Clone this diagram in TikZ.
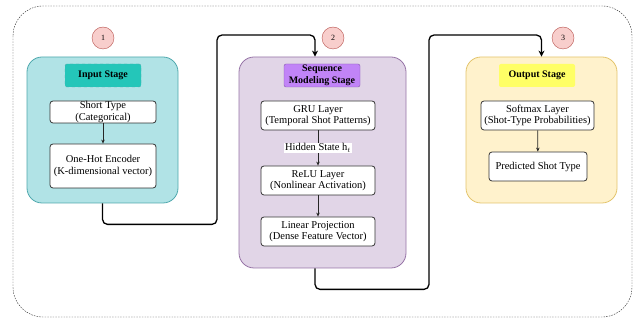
\documentclass[tikz,border=0pt]{standalone}
\usepackage{fontspec}
\setmainfont{Liberation Serif}
\usetikzlibrary{arrows.meta}
\usetikzlibrary{positioning}
\definecolor{inbg}{HTML}{B1E3E6}
\definecolor{indraw}{HTML}{4FA8AD}
\definecolor{inttl}{HTML}{24C6B9}
\definecolor{seqbg}{HTML}{E1D5E7}
\definecolor{seqdraw}{HTML}{9673A6}
\definecolor{seqttl}{HTML}{C184F7}
\definecolor{outbg}{HTML}{FFF2CC}
\definecolor{outdraw}{HTML}{E3C46C}
\definecolor{outttl}{HTML}{FFFF66}
\definecolor{numfill}{HTML}{F8CECC}
\definecolor{numdraw}{HTML}{B85450}
\tikzstyle{stage}=[draw,rounded corners=15pt,line width=0.8pt,inner sep=0pt]
\tikzstyle{ttl}=[rounded corners=2pt,font=\bfseries,align=center,inner sep=0pt,minimum width=76pt,minimum height=23pt]
\tikzstyle{lyr}=[draw=black!80,fill=white,rounded corners=3pt,align=center,inner sep=0pt,line width=0.8pt]
\tikzstyle{num}=[draw=numdraw,fill=numfill,circle,minimum size=22pt,inner sep=0pt,font=\footnotesize]
\tikzstyle{flow}=[draw,line width=1.3pt,rounded corners=5pt,-{Stealth[length=6pt,width=6pt]}]
\tikzstyle{sub}=[draw=black!85,line width=0.7pt,-{Stealth[length=4pt,width=3.5pt]}]

\begin{document}
\begin{tikzpicture}[x=1pt,y=-1pt,font=\fontsize{10.5}{11.5}\selectfont]
\useasboundingbox (0,0) rectangle (638,320);
\draw[black!85,dash pattern=on 1.5pt off 1.2pt,rounded corners=30pt] (13,6) rectangle (632,317);

% stages
\node[stage,draw=indraw,fill=inbg,minimum width=151pt,minimum height=146pt] (s1) at (102.5,130) {};
\node[stage,draw=seqdraw,fill=seqbg,minimum width=167pt,minimum height=211pt] (s2) at (322.5,162.5) {};
\node[stage,draw=outdraw,fill=outbg,minimum width=151pt,minimum height=146pt] (s3) at (541.5,130) {};

\node[ttl,fill=inttl,draw=indraw,dashed] (t1) at (103,75.5) {Input Stage};
\node[ttl,fill=seqttl,draw=seqttl!70!black] (t2) at (322,75.5) {Sequence\\Modeling Stage};
\node[ttl,fill=outttl] (t3) at (537,75.5) {Output Stage};

\foreach \n/\x in {1/103,2/333,3/563}{\node[num] (c\n) at (\x,38) {\n};}

% stage 1
\node[lyr,minimum width=106pt,minimum height=22pt] (short) at (103,112) {Short Type\\(Categorical)};
\node[lyr,minimum width=106pt,minimum height=44pt] (onehot) at (103,166) {One-Hot Encoder\\(K-dimensional vector)};
\draw[sub] (short) -- (onehot);

% stage 2
\node[lyr,minimum width=114pt,minimum height=29pt] (gru) at (318,115.5) {GRU Layer\\(Temporal Shot Patterns)};
\node[lyr,minimum width=114pt,minimum height=29pt] (relu) at (318,180.5) {ReLU Layer\\(Nonlinear Activation)};
\node[lyr,minimum width=114pt,minimum height=29pt] (lin) at (318,231.5) {Linear Projection\\(Dense Feature Vector)};
\draw[sub] (gru) -- node[fill=white,inner sep=1pt] (hid) {Hidden State h$_t$} (relu);
\draw[sub] (relu) -- (lin);

% stage 3
\node[lyr,minimum width=113pt,minimum height=29pt] (soft) at (537.5,115.5) {Softmax Layer\\(Shot-Type Probabilities)};
\node[lyr,minimum width=98pt,minimum height=29pt] (pred) at (538,166.5) {Predicted Shot Type};
\draw[sub] (soft) -- (pred);

% flow between stages
\coordinate (in2) at ([xshift=-7.5pt]s2.north);
\coordinate (out2) at ([xshift=-7.5pt]s2.south);
\draw[flow] (s1.south) -- ++(0,21) -| (217,35) -| (in2);
\draw[flow] (out2) -- ++(0,21) -| (429,35) -| (s3.north);
\end{tikzpicture}
\end{document}
